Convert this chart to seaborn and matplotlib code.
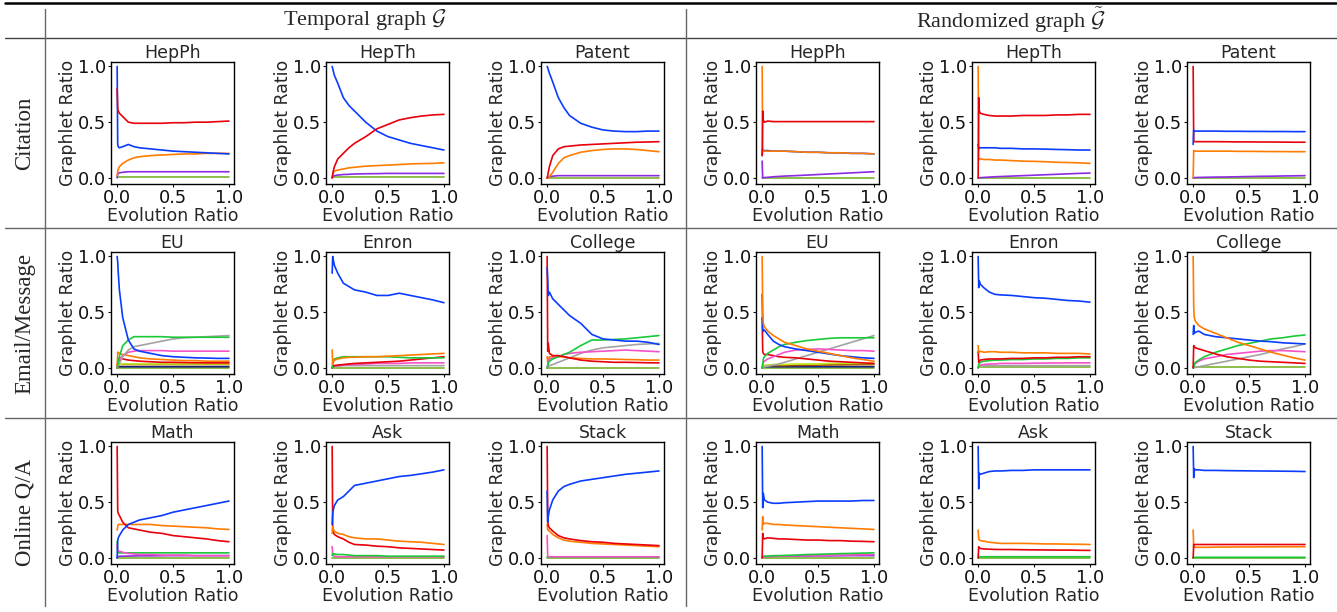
import matplotlib
matplotlib.use("Agg")
import matplotlib.pyplot as plt
from matplotlib.lines import Line2D
import seaborn as sns
import pandas as pd

# ---------------- data ----------------
X = [0.0, 0.005, 0.01, 0.02, 0.05, 0.1, 0.15, 0.2, 0.3, 0.4, 0.5, 0.6, 0.7, 0.8, 0.9, 1.0]

ROW_LABELS = ["Citation", "Email/Message", "Online Q/A"]
GROUP_LABELS = ["Temporal graph $\\mathcal{G}$", "Randomized graph $\\tilde{\\mathcal{G}}$"]
TITLES = [["HepPh", "HepTh", "Patent"], ["EU", "Enron", "College"], ["Math", "Ask", "Stack"]]
X_TICKS = [0.0, 0.5, 1.0]
Y_TICKS = [0.0, 0.5, 1.0]
X_LABEL = "Evolution Ratio"
Y_LABEL = "Graphlet Ratio"

# Temporal graphs
t_hepph = {
    "olive": [0.005] * 16,
    "purple": [0.0, 0.03, 0.04, 0.045, 0.05, 0.055, 0.055, 0.055, 0.055, 0.055, 0.055, 0.055, 0.055, 0.055, 0.055, 0.055],
    "orange": [0.02, 0.06, 0.08, 0.10, 0.13, 0.16, 0.18, 0.19, 0.20, 0.205, 0.21, 0.215, 0.215, 0.22, 0.22, 0.22],
    "blue": [1.0, 0.30, 0.28, 0.27, 0.28, 0.30, 0.28, 0.27, 0.26, 0.25, 0.24, 0.235, 0.23, 0.225, 0.22, 0.215],
    "red": [0.8, 0.62, 0.60, 0.58, 0.55, 0.50, 0.49, 0.49, 0.49, 0.49, 0.495, 0.495, 0.50, 0.50, 0.505, 0.51],
}
t_hepth = {
    "olive": [0.005] * 16,
    "purple": [0.0, 0.01, 0.015, 0.02, 0.025, 0.03, 0.032, 0.035, 0.037, 0.038, 0.04, 0.04, 0.04, 0.04, 0.04, 0.04],
    "orange": [0.0, 0.03, 0.05, 0.06, 0.07, 0.08, 0.09, 0.095, 0.105, 0.11, 0.115, 0.12, 0.125, 0.128, 0.13, 0.135],
    "blue": [1.0, 0.98, 0.96, 0.92, 0.85, 0.72, 0.65, 0.60, 0.50, 0.42, 0.37, 0.34, 0.31, 0.29, 0.27, 0.25],
    "red": [0.0, 0.03, 0.06, 0.10, 0.17, 0.22, 0.27, 0.31, 0.37, 0.44, 0.48, 0.52, 0.54, 0.555, 0.565, 0.57],
}
t_patent = {
    "olive": [0.003] * 16,
    "purple": [0.0, 0.0, 0.005, 0.01, 0.015, 0.02, 0.02, 0.02, 0.02, 0.02, 0.02, 0.02, 0.02, 0.02, 0.02, 0.02],
    "orange": [0.0, 0.0, 0.0, 0.01, 0.05, 0.13, 0.18, 0.20, 0.23, 0.245, 0.255, 0.26, 0.26, 0.255, 0.245, 0.235],
    "red": [0.0, 0.02, 0.05, 0.10, 0.20, 0.26, 0.28, 0.285, 0.295, 0.30, 0.305, 0.31, 0.315, 0.32, 0.322, 0.325],
    "blue": [1.0, 0.99, 0.97, 0.94, 0.86, 0.72, 0.63, 0.56, 0.49, 0.455, 0.43, 0.42, 0.415, 0.415, 0.42, 0.42],
}
t_eu = {
    "olive": [0.0] * 16,
    "navy": [0.0, 0.01, 0.01, 0.01, 0.01, 0.01, 0.01, 0.01, 0.01, 0.01, 0.01, 0.01, 0.01, 0.01, 0.01, 0.01],
    "brown": [0.0, 0.02, 0.03, 0.03, 0.03, 0.03, 0.03, 0.03, 0.03, 0.03, 0.03, 0.03, 0.03, 0.03, 0.03, 0.03],
    "yellow": [0.0, 0.01, 0.02, 0.03, 0.035, 0.035, 0.035, 0.035, 0.035, 0.035, 0.035, 0.035, 0.035, 0.035, 0.035, 0.035],
    "red": [0.0, 0.05, 0.08, 0.09, 0.08, 0.07, 0.065, 0.06, 0.055, 0.05, 0.05, 0.048, 0.046, 0.045, 0.045, 0.045],
    "orange": [0.0, 0.14, 0.14, 0.13, 0.12, 0.11, 0.10, 0.09, 0.08, 0.075, 0.07, 0.065, 0.065, 0.06, 0.06, 0.06],
    "pink": [0.0, 0.02, 0.04, 0.07, 0.11, 0.14, 0.15, 0.155, 0.155, 0.155, 0.15, 0.15, 0.15, 0.15, 0.15, 0.15],
    "gray": [0.0, 0.01, 0.02, 0.04, 0.10, 0.16, 0.19, 0.20, 0.22, 0.24, 0.26, 0.27, 0.275, 0.28, 0.285, 0.29],
    "green": [0.0, 0.02, 0.05, 0.10, 0.20, 0.25, 0.28, 0.28, 0.28, 0.28, 0.275, 0.275, 0.275, 0.275, 0.275, 0.275],
    "blue": [1.0, 0.95, 0.85, 0.70, 0.45, 0.25, 0.17, 0.15, 0.13, 0.11, 0.10, 0.095, 0.09, 0.088, 0.085, 0.085],
}
t_enron = {
    "olive": [0.0] * 16,
    "gray": [0.0, 0.01, 0.01, 0.015, 0.015, 0.02, 0.02, 0.02, 0.02, 0.02, 0.02, 0.02, 0.02, 0.02, 0.02, 0.02],
    "pink": [0.0, 0.01, 0.01, 0.02, 0.02, 0.025, 0.03, 0.03, 0.035, 0.04, 0.04, 0.04, 0.045, 0.045, 0.045, 0.045],
    "red": [0.0, 0.01, 0.015, 0.02, 0.025, 0.03, 0.035, 0.04, 0.045, 0.05, 0.055, 0.06, 0.07, 0.08, 0.09, 0.10],
    "green": [0.0, 0.05, 0.07, 0.08, 0.09, 0.10, 0.10, 0.10, 0.10, 0.10, 0.10, 0.095, 0.09, 0.09, 0.09, 0.09],
    "orange": [0.16, 0.03, 0.05, 0.07, 0.08, 0.09, 0.095, 0.095, 0.10, 0.10, 0.105, 0.11, 0.115, 0.12, 0.125, 0.13],
    "blue": [0.85, 1.0, 0.97, 0.92, 0.85, 0.76, 0.73, 0.70, 0.68, 0.65, 0.65, 0.67, 0.65, 0.63, 0.61, 0.585],
}
t_college = {
    "olive": [0.0] * 16,
    "gray": [0.0, 0.01, 0.01, 0.02, 0.03, 0.05, 0.07, 0.09, 0.13, 0.16, 0.18, 0.19, 0.20, 0.21, 0.215, 0.22],
    "orange": [0.1, 0.05, 0.08, 0.10, 0.10, 0.10, 0.10, 0.09, 0.085, 0.08, 0.08, 0.078, 0.075, 0.073, 0.07, 0.07],
    "pink": [0.0, 0.03, 0.06, 0.08, 0.09, 0.10, 0.12, 0.13, 0.14, 0.145, 0.15, 0.155, 0.16, 0.155, 0.15, 0.145],
    "green": [0.0, 0.02, 0.04, 0.06, 0.08, 0.10, 0.12, 0.14, 0.20, 0.25, 0.25, 0.255, 0.26, 0.27, 0.28, 0.29],
    "red": [1.0, 0.15, 0.22, 0.13, 0.11, 0.11, 0.10, 0.09, 0.07, 0.06, 0.055, 0.05, 0.05, 0.048, 0.046, 0.045],
    "blue": [0.9, 0.8, 0.65, 0.68, 0.62, 0.57, 0.52, 0.47, 0.40, 0.30, 0.26, 0.25, 0.24, 0.24, 0.23, 0.21],
}
t_math = {
    "olive": [0.0] * 16,
    "purple": [0.0, 0.01, 0.012, 0.014, 0.015, 0.016, 0.017, 0.018, 0.018, 0.019, 0.02, 0.02, 0.02, 0.02, 0.02, 0.02],
    "green": [0.15, 0.05, 0.045, 0.045, 0.045, 0.045, 0.045, 0.045, 0.045, 0.045, 0.045, 0.045, 0.045, 0.045, 0.045, 0.045],
    "pink": [0.12, 0.07, 0.06, 0.06, 0.05, 0.04, 0.035, 0.03, 0.03, 0.025, 0.025, 0.025, 0.02, 0.02, 0.02, 0.02],
    "orange": [0.25, 0.28, 0.30, 0.30, 0.30, 0.30, 0.30, 0.30, 0.30, 0.29, 0.285, 0.28, 0.275, 0.27, 0.26, 0.255],
    "red": [1.0, 0.42, 0.40, 0.38, 0.32, 0.27, 0.26, 0.25, 0.23, 0.22, 0.20, 0.19, 0.18, 0.17, 0.155, 0.145],
    "blue": [0.0, 0.15, 0.18, 0.20, 0.25, 0.30, 0.32, 0.34, 0.36, 0.38, 0.41, 0.43, 0.45, 0.47, 0.49, 0.51],
}
t_ask = {
    "olive": [0.0] * 16,
    "pink": [0.1, 0.03, 0.02, 0.015, 0.01, 0.01, 0.01, 0.01, 0.01, 0.01, 0.01, 0.01, 0.01, 0.01, 0.01, 0.01],
    "green": [0.02, 0.04, 0.035, 0.035, 0.03, 0.03, 0.025, 0.02, 0.02, 0.02, 0.015, 0.015, 0.015, 0.015, 0.015, 0.015],
    "red": [1.0, 0.25, 0.23, 0.21, 0.19, 0.17, 0.14, 0.12, 0.115, 0.105, 0.10, 0.09, 0.085, 0.08, 0.075, 0.07],
    "orange": [0.22, 0.28, 0.26, 0.24, 0.22, 0.21, 0.19, 0.18, 0.17, 0.17, 0.16, 0.15, 0.145, 0.14, 0.13, 0.12],
    "blue": [0.3, 0.40, 0.43, 0.47, 0.52, 0.55, 0.60, 0.65, 0.67, 0.69, 0.71, 0.73, 0.74, 0.755, 0.77, 0.79],
}
t_stack = {
    "olive": [0.0] * 16,
    "green": [0.01] * 16,
    "pink": [0.2, 0.02, 0.01, 0.01, 0.01, 0.01, 0.01, 0.01, 0.01, 0.01, 0.01, 0.01, 0.01, 0.01, 0.01, 0.01],
    "orange": [0.3, 0.25, 0.25, 0.24, 0.21, 0.18, 0.16, 0.15, 0.14, 0.13, 0.125, 0.12, 0.115, 0.11, 0.105, 0.10],
    "red": [1.0, 0.33, 0.29, 0.27, 0.24, 0.20, 0.18, 0.17, 0.155, 0.145, 0.14, 0.13, 0.125, 0.12, 0.115, 0.11],
    "blue": [0.6, 0.32, 0.37, 0.43, 0.52, 0.60, 0.64, 0.66, 0.69, 0.705, 0.72, 0.735, 0.75, 0.76, 0.77, 0.78],
}

# Randomized graphs
r_hepph = {
    "olive": [0.003] * 16,
    "purple": [0.15, 0.0, 0.0, 0.003, 0.005, 0.01, 0.013, 0.016, 0.02, 0.025, 0.03, 0.035, 0.04, 0.045, 0.05, 0.055],
    "blue": [0.2, 0.26, 0.25, 0.245, 0.245, 0.24, 0.24, 0.24, 0.235, 0.23, 0.23, 0.225, 0.225, 0.22, 0.22, 0.215],
    "orange": [1.0, 0.25, 0.245, 0.24, 0.24, 0.24, 0.24, 0.24, 0.235, 0.23, 0.23, 0.225, 0.225, 0.22, 0.22, 0.215],
    "red": [0.2, 0.60, 0.52, 0.50, 0.51, 0.505, 0.505, 0.505, 0.505, 0.505, 0.505, 0.505, 0.505, 0.505, 0.505, 0.505],
}
r_hepth = {
    "olive": [0.003] * 16,
    "purple": [0.0, 0.0, 0.0, 0.002, 0.004, 0.007, 0.01, 0.012, 0.016, 0.02, 0.024, 0.028, 0.032, 0.036, 0.04, 0.043],
    "orange": [1.0, 0.16, 0.17, 0.17, 0.165, 0.165, 0.16, 0.16, 0.155, 0.15, 0.148, 0.145, 0.14, 0.138, 0.135, 0.13],
    "blue": [0.3, 0.26, 0.27, 0.27, 0.27, 0.27, 0.27, 0.265, 0.265, 0.26, 0.26, 0.258, 0.255, 0.253, 0.25, 0.25],
    "red": [0.0, 0.72, 0.60, 0.58, 0.57, 0.56, 0.555, 0.555, 0.555, 0.56, 0.56, 0.56, 0.565, 0.565, 0.57, 0.57],
}
r_patent = {
    "olive": [0.003] * 16,
    "purple": [0.0, 0.0, 0.002, 0.003, 0.004, 0.005, 0.006, 0.007, 0.008, 0.01, 0.012, 0.014, 0.015, 0.017, 0.018, 0.02],
    "orange": [0.0, 0.245, 0.24, 0.24, 0.24, 0.24, 0.24, 0.24, 0.24, 0.238, 0.238, 0.237, 0.236, 0.236, 0.235, 0.235],
    "red": [1.0, 0.33, 0.325, 0.325, 0.325, 0.325, 0.325, 0.325, 0.324, 0.323, 0.323, 0.322, 0.322, 0.321, 0.32, 0.32],
    "blue": [0.3, 0.43, 0.42, 0.42, 0.42, 0.42, 0.42, 0.42, 0.418, 0.418, 0.417, 0.417, 0.416, 0.416, 0.415, 0.415],
}
r_eu = {
    "olive": [0.0] * 16,
    "navy": [0.0, 0.01, 0.01, 0.01, 0.01, 0.01, 0.01, 0.01, 0.01, 0.01, 0.01, 0.01, 0.01, 0.01, 0.01, 0.01],
    "brown": [0.0, 0.01, 0.015, 0.02, 0.02, 0.02, 0.02, 0.02, 0.022, 0.024, 0.025, 0.026, 0.027, 0.028, 0.029, 0.03],
    "yellow": [0.0, 0.01, 0.015, 0.02, 0.025, 0.03, 0.03, 0.03, 0.035, 0.035, 0.035, 0.04, 0.04, 0.04, 0.04, 0.04],
    "gray": [0.0, 0.0, 0.005, 0.01, 0.015, 0.025, 0.035, 0.05, 0.08, 0.11, 0.14, 0.17, 0.20, 0.23, 0.26, 0.29],
    "red": [0.45, 0.15, 0.13, 0.12, 0.12, 0.11, 0.10, 0.095, 0.09, 0.08, 0.07, 0.06, 0.055, 0.05, 0.045, 0.04],
    "pink": [0.0, 0.03, 0.05, 0.06, 0.08, 0.10, 0.12, 0.14, 0.16, 0.165, 0.17, 0.165, 0.16, 0.155, 0.155, 0.15],
    "green": [0.0, 0.03, 0.08, 0.10, 0.13, 0.16, 0.19, 0.21, 0.23, 0.245, 0.255, 0.265, 0.27, 0.27, 0.27, 0.27],
    "blue": [0.66, 0.35, 0.33, 0.34, 0.30, 0.24, 0.21, 0.19, 0.17, 0.155, 0.14, 0.125, 0.11, 0.10, 0.09, 0.085],
    "orange": [1.0, 0.50, 0.40, 0.37, 0.33, 0.29, 0.26, 0.23, 0.20, 0.17, 0.15, 0.13, 0.11, 0.09, 0.075, 0.06],
}
r_enron = {
    "olive": [0.005] * 16,
    "gray": [0.0, 0.01, 0.015, 0.02, 0.02, 0.02, 0.02, 0.02, 0.02, 0.02, 0.02, 0.02, 0.02, 0.02, 0.02, 0.02],
    "pink": [0.0, 0.01, 0.02, 0.025, 0.03, 0.035, 0.035, 0.04, 0.04, 0.04, 0.042, 0.043, 0.044, 0.045, 0.045, 0.045],
    "green": [0.0, 0.03, 0.04, 0.05, 0.06, 0.065, 0.07, 0.07, 0.075, 0.075, 0.08, 0.08, 0.085, 0.085, 0.09, 0.09],
    "red": [0.15, 0.05, 0.06, 0.07, 0.075, 0.08, 0.08, 0.08, 0.085, 0.085, 0.09, 0.09, 0.095, 0.095, 0.10, 0.10],
    "orange": [0.2, 0.14, 0.14, 0.15, 0.14, 0.145, 0.145, 0.14, 0.14, 0.135, 0.135, 0.135, 0.13, 0.13, 0.13, 0.125],
    "blue": [1.0, 0.72, 0.78, 0.75, 0.72, 0.68, 0.66, 0.655, 0.65, 0.64, 0.63, 0.625, 0.615, 0.605, 0.60, 0.59],
}
r_college = {
    "olive": [0.005] * 16,
    "gray": [0.0, 0.0, 0.0, 0.005, 0.01, 0.02, 0.03, 0.04, 0.06, 0.08, 0.10, 0.12, 0.145, 0.17, 0.19, 0.215],
    "pink": [0.0, 0.02, 0.03, 0.04, 0.06, 0.08, 0.09, 0.10, 0.12, 0.13, 0.14, 0.15, 0.155, 0.155, 0.15, 0.145],
    "green": [0.0, 0.01, 0.03, 0.05, 0.07, 0.10, 0.12, 0.14, 0.17, 0.20, 0.22, 0.24, 0.26, 0.27, 0.285, 0.295],
    "red": [0.0, 0.20, 0.19, 0.18, 0.17, 0.155, 0.14, 0.125, 0.10, 0.085, 0.07, 0.06, 0.055, 0.05, 0.045, 0.04],
    "blue": [0.3, 0.38, 0.31, 0.32, 0.33, 0.30, 0.29, 0.28, 0.27, 0.26, 0.25, 0.24, 0.235, 0.225, 0.22, 0.215],
    "orange": [1.0, 0.55, 0.45, 0.42, 0.38, 0.35, 0.33, 0.31, 0.27, 0.23, 0.20, 0.17, 0.14, 0.115, 0.09, 0.07],
}
r_math = {
    "olive": [0.003] * 16,
    "purple": [0.0, 0.01, 0.01, 0.012, 0.013, 0.014, 0.015, 0.015, 0.016, 0.017, 0.018, 0.018, 0.019, 0.02, 0.02, 0.02],
    "pink": [0.0, 0.01, 0.01, 0.01, 0.012, 0.014, 0.015, 0.016, 0.018, 0.02, 0.022, 0.024, 0.025, 0.026, 0.028, 0.03],
    "green": [0.0, 0.01, 0.015, 0.015, 0.015, 0.02, 0.02, 0.022, 0.025, 0.03, 0.032, 0.035, 0.038, 0.04, 0.043, 0.045],
    "red": [0.0, 0.22, 0.18, 0.17, 0.18, 0.175, 0.17, 0.17, 0.165, 0.16, 0.16, 0.155, 0.155, 0.15, 0.148, 0.145],
    "orange": [0.25, 0.37, 0.30, 0.31, 0.31, 0.30, 0.30, 0.295, 0.29, 0.285, 0.28, 0.275, 0.27, 0.265, 0.26, 0.255],
    "blue": [1.0, 0.45, 0.58, 0.52, 0.50, 0.49, 0.49, 0.495, 0.50, 0.505, 0.51, 0.51, 0.51, 0.51, 0.515, 0.515],
}
r_ask = {
    "olive": [0.003] * 16,
    "green": [0.0, 0.01, 0.01, 0.01, 0.01, 0.01, 0.01, 0.01, 0.01, 0.01, 0.01, 0.01, 0.01, 0.01, 0.01, 0.01],
    "red": [0.0, 0.10, 0.09, 0.085, 0.08, 0.078, 0.076, 0.075, 0.075, 0.073, 0.072, 0.071, 0.07, 0.07, 0.068, 0.067],
    "orange": [0.25, 0.17, 0.16, 0.155, 0.15, 0.14, 0.135, 0.13, 0.13, 0.13, 0.128, 0.125, 0.125, 0.123, 0.122, 0.12],
    "blue": [1.0, 0.62, 0.76, 0.75, 0.76, 0.775, 0.78, 0.78, 0.785, 0.785, 0.79, 0.79, 0.79, 0.79, 0.79, 0.79],
}
r_stack = {
    "olive": [0.003] * 16,
    "green": [0.0, 0.005, 0.005, 0.005, 0.005, 0.005, 0.005, 0.005, 0.005, 0.005, 0.005, 0.005, 0.005, 0.005, 0.005, 0.005],
    "orange": [0.25, 0.09, 0.095, 0.095, 0.095, 0.095, 0.095, 0.097, 0.097, 0.098, 0.098, 0.099, 0.099, 0.10, 0.10, 0.10],
    "red": [0.0, 0.12, 0.12, 0.12, 0.12, 0.12, 0.12, 0.12, 0.12, 0.12, 0.12, 0.12, 0.12, 0.12, 0.12, 0.12],
    "blue": [1.0, 0.72, 0.80, 0.79, 0.79, 0.785, 0.785, 0.785, 0.783, 0.782, 0.781, 0.78, 0.779, 0.778, 0.777, 0.775],
}

PANELS = [
    [t_hepph, t_hepth, t_patent, r_hepph, r_hepth, r_patent],
    [t_eu, t_enron, t_college, r_eu, r_enron, r_college],
    [t_math, t_ask, t_stack, r_math, r_ask, r_stack],
]

COLORS = {
    "blue": "#0a3cff", "red": "#e8000b", "orange": "#ff7c00", "purple": "#8b2be2",
    "green": "#1ac938", "pink": "#f552c8", "gray": "#a3a3a3", "brown": "#9f4800",
    "yellow": "#c2e61a", "navy": "#1a237e", "olive": "#7cb32a",
}

# ---------------- figure ----------------
sns.set_style("ticks")
plt.rcParams["font.family"] = ["DejaVu Sans"]
plt.rcParams["mathtext.fontset"] = "cm"

W, H = 1337, 612
fig = plt.figure(figsize=(W / 100, H / 100), dpi=100)
fig.patch.set_facecolor("white")

col_left = [111, 326, 541, 756, 972, 1187]
row_top = [62, 252, 442]
aw, ah = 123, 122

for r in range(3):
    for c in range(6):
        ax = fig.add_axes([col_left[c] / W, 1 - (row_top[r] + ah) / H, aw / W, ah / H])
        series = PANELS[r][c]
        rows = []
        for name, vals in series.items():
            for xv, yv in zip(X, vals):
                rows.append({"x": xv, "y": yv, "s": name})
        df = pd.DataFrame(rows)
        order = list(series.keys())
        sns.lineplot(data=df, x="x", y="y", hue="s", hue_order=order,
                     palette={k: COLORS[k] for k in order}, estimator=None,
                     sort=False, legend=False, ax=ax, linewidth=1.2)
        ax.set_xlim(-0.055, 1.045)
        ax.set_ylim(-0.055, 1.04)
        ax.set_xticks(X_TICKS)
        ax.set_yticks(Y_TICKS)
        ax.set_xticklabels([f"{v:.1f}" for v in X_TICKS])
        ax.set_yticklabels([f"{v:.1f}" for v in Y_TICKS])
        ax.tick_params(labelsize=12.8, length=2.5, width=0.8, pad=1.0, colors="#111")
        ax.set_xlabel(X_LABEL, fontsize=12.5, labelpad=0)
        ax.set_ylabel(Y_LABEL, fontsize=12.5, labelpad=0.5)
        ax.set_title(TITLES[r][c % 3], fontsize=12.5, pad=3)
        for sp in ax.spines.values():
            sp.set_visible(True)
            sp.set_color("black")
            sp.set_linewidth(1.0)

# table structure
def hline(y, x0, x1, lw, color):
    fig.add_artist(Line2D([x0 / W, x1 / W], [1 - y / H, 1 - y / H], transform=fig.transFigure,
                          color=color, linewidth=lw))

def vline(x, y0, y1, lw, color):
    fig.add_artist(Line2D([x / W, x / W], [1 - y0 / H, 1 - y1 / H], transform=fig.transFigure,
                          color=color, linewidth=lw))

hline(3, 5, 1337, 1.8, "black")
hline(38, 5, 1337, 1.0, "#444444")
hline(228, 5, 1337, 1.0, "#666666")
hline(418, 5, 1337, 1.0, "#666666")
vline(45, 9, 606, 1.0, "#666666")
vline(686, 9, 606, 1.0, "#666666")

fig.text(365 / W, 1 - 20 / H, GROUP_LABELS[0], family="Liberation Serif", fontsize=16,
         ha="center", va="center")
fig.text(1011 / W, 1 - 20 / H, GROUP_LABELS[1], family="Liberation Serif", fontsize=16,
         ha="center", va="center")
for i, yc in enumerate([133, 323, 512]):
    fig.text(25 / W, 1 - yc / H, ROW_LABELS[i], family="Liberation Serif", fontsize=16.5,
             ha="center", va="center", rotation=90)

fig.savefig("out.png", dpi=100, facecolor="white")
